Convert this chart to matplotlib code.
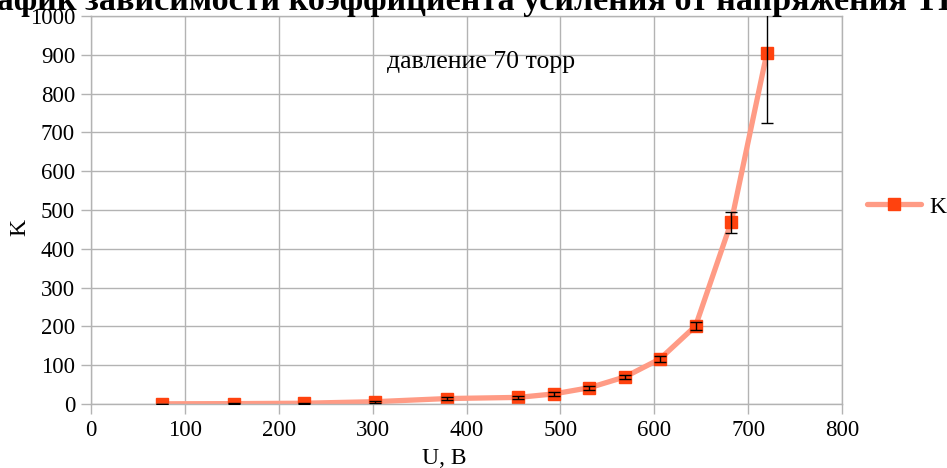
import matplotlib
matplotlib.use("Agg")
import matplotlib.pyplot as plt

U = [76, 152, 227, 303, 379, 455, 493, 531, 569, 606, 644, 682, 720]
K = [0.5, 1, 2, 6, 14, 17, 26, 42, 70, 116, 201, 469, 905]
K_err = [0.5, 1, 1.5, 3, 4, 4, 5, 5, 6, 8, 10, 27, 180]

xticks = [0, 100, 200, 300, 400, 500, 600, 700, 800]
yticks = [0, 100, 200, 300, 400, 500, 600, 700, 800, 900, 1000]

plt.rcParams['font.family'] = ['Liberation Serif', 'DejaVu Serif']

fig = plt.figure(figsize=(9.47, 4.68), dpi=100)
ax = fig.add_axes([91/947, 1-404/468, (842-91)/947, (404-16)/468])

grid_c = '#b3b3b3'
ax.set_xlim(0, 800)
ax.set_ylim(0, 1000)
ax.set_xticks(xticks)
ax.set_yticks(yticks)
ax.grid(True, color=grid_c, linewidth=1.0)
ax.set_axisbelow(True)
for s in ax.spines.values():
    s.set_color(grid_c)
    s.set_linewidth(1.0)
ax.tick_params(axis='both', colors=grid_c, length=7.5, width=1.0, labelsize=16.5,
               labelcolor='black', direction='out')
ax.tick_params(axis='y', pad=4)
ax.tick_params(axis='x', pad=4)

ax.plot(U, K, color='#ff9b85', linewidth=3.8, solid_capstyle='round', zorder=2,
        label='K', marker='s', markersize=9, markerfacecolor='#ff420e',
        markeredgecolor='#ff420e')
ax.errorbar(U, K, yerr=K_err, fmt='none', ecolor='black', elinewidth=1.0,
            capsize=4.5, capthick=1.0, zorder=3, clip_on=True)

ax.set_xlabel('U, B', fontsize=17)
ax.xaxis.set_label_coords((444-91)/751, -(458-404)/388, transform=None) if False else None
ax.xaxis.set_label_coords((444-91)/751, -(458-404)/388)
ax.xaxis.label.set_va('center')
ax.set_ylabel('K', fontsize=17)
ax.yaxis.set_label_coords(-(91-20)/751, (404-227)/388)
ax.yaxis.label.set_va('center')

ax.text(416, 881, 'давление 70 торр', fontsize=18.5, ha='center', va='center')

leg = ax.legend(loc='center left', bbox_to_anchor=(1 + (867-842)/751, 0.508),
                frameon=False, fontsize=17, handlelength=2.3, handletextpad=0.35,
                borderpad=0, borderaxespad=0)

fig.text(-0.0441, 0.9776, 'График зависимости коэффициента усиления от напряжения ТГЭУ',
         fontsize=24.6, fontweight='bold', ha='left', va='baseline')

fig.savefig('out.png', dpi=100)
